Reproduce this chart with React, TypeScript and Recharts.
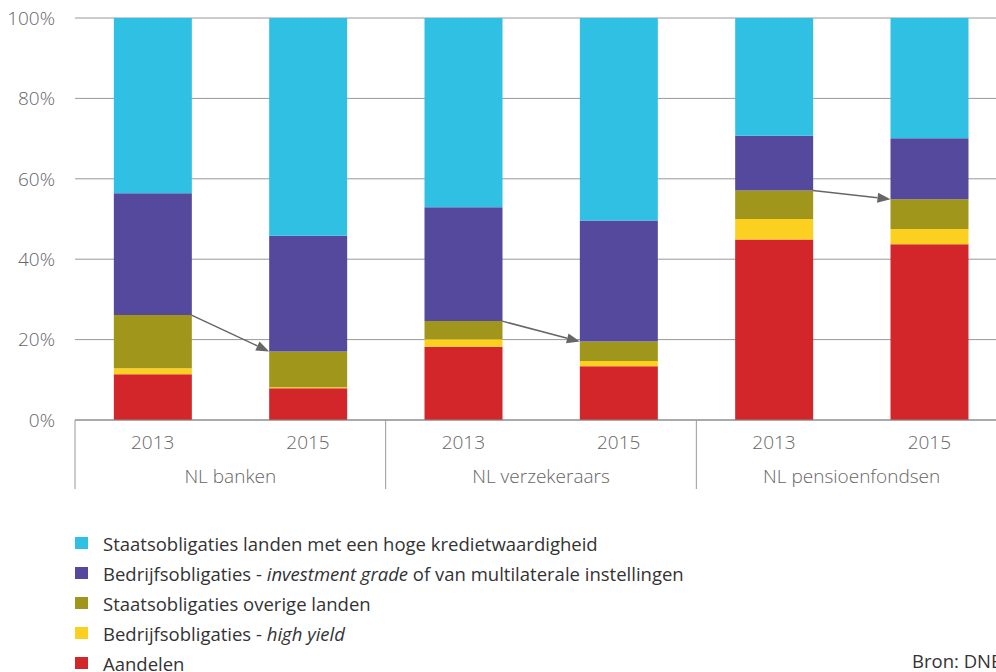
import { BarChart, Bar, XAxis, YAxis, CartesianGrid, ReferenceLine } from "recharts";

// one entry per bar
const keys = ["banken-2013", "banken-2015", "verz-2013", "verz-2015", "pens-2013", "pens-2015"];
const years = ["2013", "2015", "2013", "2015", "2013", "2015"];
const groups = ["NL banken", "NL banken", "NL verzekeraars", "NL verzekeraars", "NL pensioenfondsen", "NL pensioenfondsen"];

// shares in %, bottom to top
const aandelen = [11.4, 7.9, 18.2, 13.4, 44.9, 43.7];
const highYield = [1.5, 0.25, 1.9, 1.3, 5.1, 3.8];
const staatsOverig = [13.2, 8.9, 4.5, 4.8, 7.1, 7.4];
const investmentGrade = [30.3, 28.8, 28.3, 30.1, 13.6, 15.2];
const staatsHoog = [43.6, 54.15, 47.1, 50.4, 29.3, 29.9];

const yTicks = [0, 20, 40, 60, 80, 100];

// arrows from the 2013 bar to the 2015 bar (top of "overige landen")
const arrowFrom = [0, 2, 4];
const arrowTo = [1, 3, 5];

const series = [
  { key: "aandelen", color: "#D2262A" },
  { key: "highYield", color: "#FCD021" },
  { key: "staatsOverig", color: "#A0961C" },
  { key: "investmentGrade", color: "#55499E" },
  { key: "staatsHoog", color: "#30C0E4" },
];

const legendItems = [
  { color: "#30C0E4", pre: "Staatsobligaties landen met een hoge kredietwaardigheid", it: "", post: "" },
  { color: "#55499E", pre: "Bedrijfsobligaties - ", it: "investment grade", post: " of van multilaterale instellingen" },
  { color: "#A0961C", pre: "Staatsobligaties overige landen", it: "", post: "" },
  { color: "#FCD021", pre: "Bedrijfsobligaties - ", it: "high yield", post: "" },
  { color: "#D2262A", pre: "Aandelen", it: "", post: "" },
];

const data = keys.map((k, i) => ({
  key: k,
  year: years[i],
  group: groups[i],
  aandelen: aandelen[i],
  highYield: highYield[i],
  staatsOverig: staatsOverig[i],
  investmentGrade: investmentGrade[i],
  staatsHoog: staatsHoog[i],
}));

const olivTop = (i: number) => aandelen[i] + highYield[i] + staatsOverig[i];

const FONT = "'Open Sans', 'Noto Sans', sans-serif";

// two level category tick: year under each bar, group name + separators per pair
function CategoryTick(props: any) {
  const { x, y, payload, index } = props;
  const half = payload.offset || 0;
  const i = payload.index ?? index;
  return (
    <g>
      <text x={x} y={y + 29} textAnchor="middle" fill="#666" fontSize={19} fontWeight={300}>
        {years[i]}
      </text>
      {i % 2 === 0 && (
        <>
          <line x1={x - half} x2={x - half} y1={y} y2={y + 69} stroke="#999" />
          <text x={x + half} y={y + 63} textAnchor="middle" fill="#666" fontSize={19} fontWeight={300}>
            {groups[i]}
          </text>
        </>
      )}
      {i === keys.length - 1 && <line x1={x + half} x2={x + half} y1={y} y2={y + 69} stroke="#999" />}
    </g>
  );
}

function Arrow(props: any) {
  const { x1, y1, x2, y2 } = props;
  if (x1 == null || x2 == null) return null;
  const dx = x2 - x1;
  // start at the right edge of the first bar, end at the left edge of the second
  const sx = x1 + dx * 0.25;
  const ex = x2 - dx * 0.25;
  const ang = Math.atan2(y2 - y1, ex - sx);
  const len = 13;
  const w = 5;
  const bx = ex - Math.cos(ang) * len;
  const by = y2 - Math.sin(ang) * len;
  const px = -Math.sin(ang) * w;
  const py = Math.cos(ang) * w;
  return (
    <g>
      <line x1={sx} y1={y1} x2={bx} y2={by} stroke="#666" strokeWidth={1.5} />
      <path d={`M${ex},${y2} L${bx + px},${by + py} L${bx - px},${by - py} Z`} fill="#666" />
    </g>
  );
}

export default function App() {
  return (
    <div
      style={{
        position: "absolute",
        left: 0,
        top: 0,
        width: 996,
        height: 672,
        overflow: "hidden",
        background: "#fff",
        fontFamily: FONT,
      }}
    >
      <BarChart
        width={1010}
        height={495}
        data={data}
        margin={{ top: 18, right: 3, left: 0, bottom: 5 }}
        barCategoryGap="25%"
      >
        <CartesianGrid vertical={false} stroke="#999" />
        <XAxis
          dataKey="key"
          interval={0}
          height={70}
          tickSize={0}
          tickMargin={0}
          tickLine={false}
          axisLine={{ stroke: "#888" }}
          tick={<CategoryTick />}
        />
        <YAxis
          domain={[0, 100]}
          ticks={yTicks}
          width={75}
          axisLine={false}
          tickLine={false}
          tickMargin={14}
          tickFormatter={(v) => `${v}%`}
          tick={{ fill: "#666", fontSize: 19, fontWeight: 300 }}
        />
        {series.map((s) => (
          <Bar key={s.key} dataKey={s.key} stackId="a" fill={s.color} isAnimationActive={false} />
        ))}
        {arrowFrom.map((a, j) => (
          <ReferenceLine
            key={a}
            ifOverflow="visible"
            segment={[
              { x: keys[a], y: olivTop(a) },
              { x: keys[arrowTo[j]], y: olivTop(arrowTo[j]) },
            ]}
            shape={Arrow}
          />
        ))}
      </BarChart>

      <div style={{ position: "absolute", left: 75, top: 528 }}>
        {legendItems.map((l) => (
          <div key={l.color} style={{ display: "flex", alignItems: "center", height: 30 }}>
            <span style={{ width: 13, height: 12, background: l.color, display: "inline-block", marginRight: 15 }} />
            <span style={{ fontSize: 18.5, color: "#333", whiteSpace: "nowrap" }}>
              {l.pre}
              {l.it && <i>{l.it}</i>}
              {l.post}
            </span>
          </div>
        ))}
      </div>
      <div
        style={{
          position: "absolute",
          left: 912,
          top: 648,
          fontSize: 18.5,
          color: "#333",
          whiteSpace: "nowrap",
        }}
      >
        Bron: DNB
      </div>
    </div>
  );
}
